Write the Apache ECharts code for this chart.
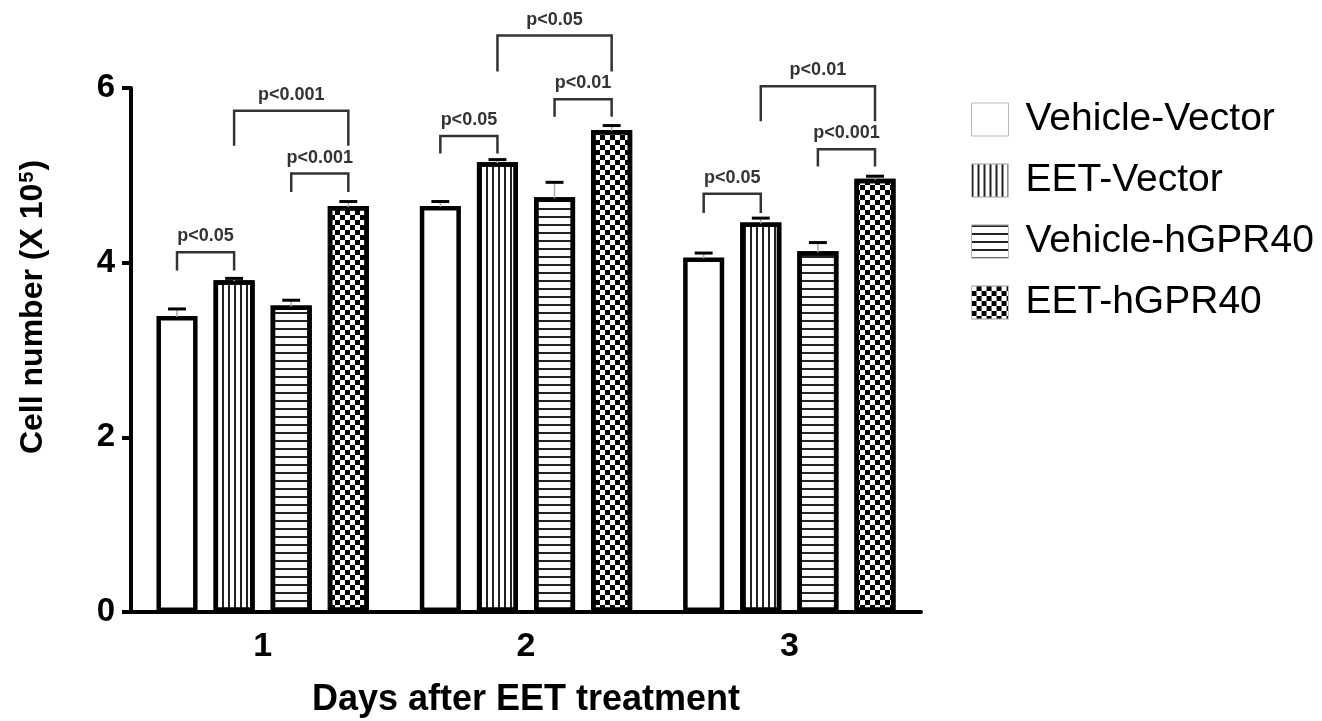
<!DOCTYPE html>
<html>
<head>
<meta charset="utf-8">
<script src="https://cdn.jsdelivr.net/npm/echarts@6/dist/echarts.min.js"></script>
<style>html,body{margin:0;padding:0;background:#fff}#c{width:1322px;height:721px}</style>
</head>
<body>
<div id="c"></div>
<script>
// ---- data ----
var categories = ['1', '2', '3'];
var seriesNames = ['Vehicle-Vector', 'EET-Vector', 'Vehicle-hGPR40', 'EET-hGPR40'];
var vehicleVector = [3.39, 4.65, 4.06];
var eetVector = [3.80, 5.15, 4.46];
var vehicleHGPR40 = [3.51, 4.75, 4.13];
var eetHGPR40 = [4.65, 5.52, 4.96];
var errVehicleVector = [0.08, 0.05, 0.05];
var errEetVector = [0.02, 0.03, 0.05];
var errVehicleHGPR40 = [0.06, 0.17, 0.10];
var errEetHGPR40 = [0.05, 0.05, 0.03];
var yTicks = [0, 2, 4, 6];
// brackets: [category index, from bar, to bar, bracket level, leg bottom, label]
var brackets = [
  [0, 0, 1, 4.12, 3.91, 'p<0.05'],
  [0, 2, 3, 5.02, 4.81, 'p<0.001'],
  [0, 1, 3, 5.74, 5.34, 'p<0.001'],
  [1, 0, 1, 5.45, 5.25, 'p<0.05'],
  [1, 2, 3, 5.87, 5.67, 'p<0.01'],
  [1, 1, 3, 6.60, 6.19, 'p<0.05'],
  [2, 0, 1, 4.79, 4.57, 'p<0.05'],
  [2, 2, 3, 5.30, 5.10, 'p<0.001'],
  [2, 1, 3, 6.02, 5.62, 'p<0.01']
];

var values = [vehicleVector, eetVector, vehicleHGPR40, eetHGPR40];
var errors = [errVehicleVector, errEetVector, errVehicleHGPR40, errEetHGPR40];

var BAR_W = 0.156, BAR_GAP = 0.39;
var PITCH = BAR_W * (1 + BAR_GAP);
var FONT = 'Liberation Sans, Arial, Helvetica, sans-serif';

var decals = [
  null,
  {symbol: 'rect', symbolSize: 1, color: '#222', backgroundColor: 'rgba(0,0,0,0)', dashArrayX: [1.2, 4], dashArrayY: [4, 0], rotation: 0},
  {symbol: 'rect', symbolSize: 1, color: '#222', backgroundColor: 'rgba(0,0,0,0)', dashArrayX: [4, 0], dashArrayY: [1.4, 5.2], rotation: 0},
  {symbol: 'rect', symbolSize: 1, color: '#000', backgroundColor: 'rgba(0,0,0,0)', dashArrayX: [[4.8, 4.8], [0, 4.8, 4.8, 0]], dashArrayY: [4.8, 0], rotation: 0}
];

var barSeries = seriesNames.map(function (name, i) {
  var s = {
    name: name,
    type: 'bar',
    data: values[i],
    barWidth: (BAR_W * 100) + '%',
    barGap: (BAR_GAP * 100) + '%',
    itemStyle: {color: '#fff', borderColor: '#000', borderWidth: 4.5},
    emphasis: {disabled: true},
    z: 2
  };
  if (decals[i]) s.itemStyle.decal = decals[i];
  return s;
});

var errData = [];
for (var s = 0; s < values.length; s++) {
  for (var c = 0; c < categories.length; c++) {
    errData.push([c, s, values[s][c], errors[s][c]]);
  }
}

var errorSeries = {
  type: 'custom',
  name: 'err',
  data: errData,
  encode: {x: 0, y: 2},
  z: 5,
  silent: true,
  renderItem: function (params, api) {
    var c = api.value(0), si = api.value(1), v = api.value(2), e = api.value(3);
    var band = api.size([1, 0])[0];
    var base = api.coord([c, v]);
    var x = base[0] + (si - 1.5) * PITCH * band;
    var yTop = base[1];
    var yCap = api.coord([c, v + e])[1];
    var half = band * 0.034;
    return {
      type: 'group',
      children: [
        {type: 'line', shape: {x1: x, y1: yTop + 1, x2: x, y2: yCap}, style: {stroke: '#aaa', lineWidth: 1.5}},
        {type: 'line', shape: {x1: x - half, y1: yCap, x2: x + half, y2: yCap}, style: {stroke: '#000', lineWidth: 3}}
      ]
    };
  }
};

var bracketSeries = {
  type: 'custom',
  name: 'brackets',
  data: brackets.map(function (b) { return [b[0], b[1], b[2], b[3], b[4]]; }),
  encode: {x: 0, y: 3},
  z: 6,
  silent: true,
  clip: false,
  renderItem: function (params, api) {
    var b = brackets[params.dataIndex];
    var c = b[0];
    var band = api.size([1, 0])[0];
    var center = api.coord([c, b[3]]);
    var x1 = center[0] + (b[1] - 1.5) * PITCH * band;
    var x2 = center[0] + (b[2] - 1.5) * PITCH * band;
    var yL = center[1];
    var yB = api.coord([c, b[4]])[1];
    return {
      type: 'group',
      children: [
        {type: 'polyline', shape: {points: [[x1, yB], [x1, yL], [x2, yL], [x2, yB]]}, style: {stroke: '#333', lineWidth: 2.5, fill: null}},
        {type: 'text', x: (x1 + x2) / 2, y: yL - 7, style: {text: b[5], fontSize: 18, fontWeight: 'bold', fontFamily: FONT, fill: '#333', align: 'center', verticalAlign: 'bottom'}}
      ]
    };
  }
};

var chart = echarts.init(document.getElementById('c'), null, {renderer: 'canvas'});
chart.setOption({
  backgroundColor: '#fff',
  animation: false,
  grid: {left: 131, top: 88, width: 790, bottom: 109, containLabel: false, outerBoundsMode: 'none'},
  legend: {
    data: seriesNames,
    orient: 'vertical',
    left: 966,
    top: 95,
    itemWidth: 37,
    itemHeight: 33,
    itemGap: 22,
    icon: 'rect',
    selectedMode: false,
    itemStyle: {borderWidth: 1, borderColor: '#bbb'},
    textStyle: {fontSize: 39, color: '#000', fontFamily: FONT, padding: [0, 0, 0, 12]}
  },
  xAxis: {
    type: 'category',
    data: categories,
    name: 'Days after EET treatment',
    nameLocation: 'middle',
    nameGap: 70,
    nameTextStyle: {fontSize: 36, fontWeight: 'bold', color: '#000', fontFamily: FONT},
    axisLine: {lineStyle: {color: '#000', width: 4}},
    axisTick: {alignWithLabel: true, length: 9, lineStyle: {color: '#000', width: 3}},
    axisLabel: {fontSize: 34, fontWeight: 'bold', color: '#000', fontFamily: FONT, margin: 18},
    splitLine: {show: false}
  },
  yAxis: {
    type: 'value',
    min: 0,
    max: 6,
    interval: 2,
    name: '{a|Cell number (X 10}{s|5}{a|)}',
    nameLocation: 'middle',
    nameGap: 82,
    nameTextStyle: {
      color: '#000',
      padding: [0, 0, 0, 86],
      rich: {
        a: {fontSize: 32, fontWeight: 'bold', color: '#000', fontFamily: FONT},
        s: {fontSize: 20, fontWeight: 'bold', color: '#000', fontFamily: FONT, verticalAlign: 'top', padding: [0, 1, 0, 1]}
      }
    },
    axisLine: {show: true, lineStyle: {color: '#000', width: 4}},
    axisTick: {show: true, length: 9, lineStyle: {color: '#000', width: 4}},
    axisLabel: {fontSize: 33, fontWeight: 'bold', color: '#000', fontFamily: FONT, margin: 16,
      formatter: function (v) { return yTicks.indexOf(v) >= 0 ? String(v) : ''; }},
    splitLine: {show: false}
  },
  series: barSeries.concat([errorSeries, bracketSeries])
});
</script>
</body>
</html>
